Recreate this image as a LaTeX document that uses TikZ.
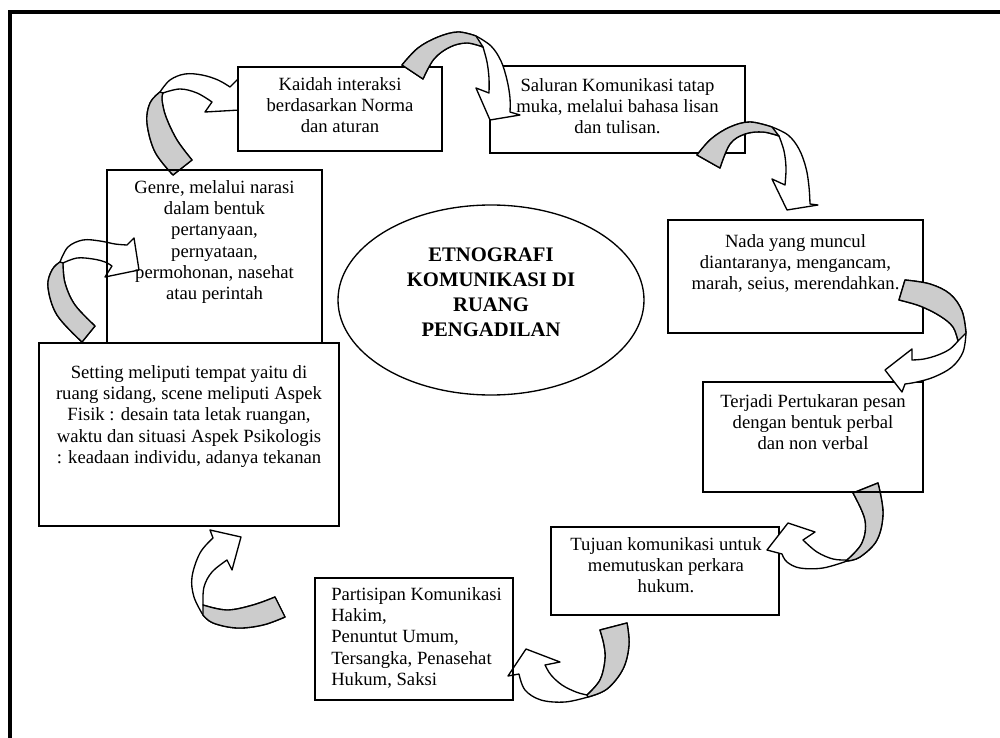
\documentclass[tikz,border=0pt]{standalone}
\usepackage{fontspec}
\setmainfont{Liberation Serif}
\usetikzlibrary{fit,shapes.geometric}

\tikzset{
  box/.style={draw, line width=1pt, inner sep=0pt, fill=white},
  openbox/.style={draw, line width=1pt, inner sep=0pt},
  txt/.style={align=center, inner sep=0pt, font=\fontsize{14}{16}\selectfont},
  ribbon/.style={draw, line width=1pt, line join=round},
  hubtext/.style={align=center, inner sep=0pt, font=\bfseries\fontsize{15.5}{18.75}\selectfont},
}

% Folded block arrow: #1 back band outer edge, #2 front band outer edge,
% #3 outer barb, #4 tip, #5 inner barb, #6 front band inner edge, #7 back band inner edge
\newcommand{\curvedribbon}[7]{%
  \path[ribbon, fill=white]
    plot[smooth,tension=.6] coordinates {#1}
    -- plot[smooth,tension=.6] coordinates {#2}
    -- #3 -- #4 -- #5
    -- plot[smooth,tension=.6] coordinates {#6}
    -- plot[smooth,tension=.6] coordinates {#7} -- cycle;
  \path[ribbon, fill=black!20]
    plot[smooth,tension=.6] coordinates {#1}
    -- plot[smooth,tension=.6] coordinates {#7} -- cycle;
}

\begin{document}
\begin{tikzpicture}[x=0.75pt,y=-0.75pt]
\useasboundingbox (0,0) rectangle (1000,738);
\clip (0,0) rectangle (1000,738);

% page frame
\draw[line width=3pt] (1010,12) -- (10,12) -- (10,750);

% arrows lying under the boxes
% Genre -> Kaidah
\curvedribbon{(173,175) (155,152) (147,123) (150,103) (160,92)}
  {(160,92) (170,80) (185,74) (202,75) (218,80) (230,87)}
  {(238,79)}{(240,110)}{(205,112)}
  {(212,102) (197,93) (180,89) (163,93)}
  {(163,93) (162,100) (166,117) (177,140) (192,160)}
% Setting -> Genre
\curvedribbon{(82,342) (57,315) (48,287) (52,270) (60,262)}
  {(60,262) (68,247) (83,240) (100,241) (115,244) (127,245)}
  {(134,238)}{(139,270)}{(105,277)}
  {(112,266) (105,262) (93,259) (77,258) (63,263)}
  {(63,263) (65,283) (75,305) (95,326)}
% Tujuan -> Partisipan
\curvedribbon{(627,623) (629,645) (623,669) (607,689) (588,697)}
  {(588,697) (565,702) (541,700) (525,690) (519,674)}
  {(508,676)}{(526,649)}{(560,662)}
  {(545,665) (551,675) (562,685) (576,692) (587,695)}
  {(587,695) (600,680) (605,660) (604,645) (600,630)}

% boxes
\node[box, fit={(238,67) (442,151)}] (kaidah) {};
\node[box, fit={(490,66) (745,153)}] (saluran) {};
\node[openbox, fit={(107,170) (322,343)}] (genre) {};
\node[box, fit={(39,343) (339,526)}] (setting) {};
\node[box, fit={(668,220) (923,333)}] (nada) {};
\node[box, fit={(551,527) (779,615)}] (tujuan) {};
\node[openbox, fit={(315,578) (513,700)}] (partisipan) {};

% Terjadi -> Tujuan (its cut end sits under the Terjadi outline)
\curvedribbon{(878,483) (883,513) (877,540) (860,557) (847,561)}
  {(847,561) (823,568) (800,568) (787,562) (782,554)}
  {(767,550)}{(788,523)}{(815,532)}
  {(803,540) (817,552) (833,559) (847,560)}
  {(847,560) (862,543) (865,520) (853,493)}
\node[openbox, fit={(703,382) (923,492)}] (terjadi) {};

% centre
\node[draw, ellipse, line width=1pt, inner sep=0pt,
      minimum width=229.5pt, minimum height=142.5pt] (hub) at (491,300) {};
\node[hubtext] (hubText) at (491,292.5) {ETNOGRAFI\\KOMUNIKASI DI\\RUANG\\PENGADILAN};

% box texts
\node[txt, anchor=north] (kaidahText) at (340,77) {Kaidah interaksi\\berdasarkan Norma\\dan aturan};
\node[txt, anchor=north] (saluranText) at (617.5,78) {Saluran Komunikasi tatap\\muka, melalui bahasa lisan\\dan tulisan.};
\node[txt, anchor=north] (genreText) at (214.5,180) {Genre, melalui narasi\\dalam bentuk\\pertanyaan,\\pernyataan,\\permohonan, nasehat\\atau perintah};
\node[txt, anchor=north] (settingText) at (189,365) {Setting meliputi tempat yaitu di\\ruang sidang, scene meliputi Aspek\\Fisik : desain tata letak ruangan,\\waktu dan situasi Aspek Psikologis\\: keadaan individu, adanya tekanan};
\node[txt, anchor=north] (nadaText) at (795.5,234) {Nada yang muncul\\diantaranya, mengancam,\\marah, seius, merendahkan.};
\node[txt, anchor=north] (terjadiText) at (813,394) {Terjadi Pertukaran pesan\\dengan bentuk perbal\\dan non verbal};
\node[txt, anchor=north] (tujuanText) at (666,537) {Tujuan komunikasi untuk\\memutuskan perkara\\hukum.};
\node[txt, align=left, anchor=north west] (partisipanText) at (331,587) {Partisipan Komunikasi\\Hakim,\\Penuntut Umum,\\Tersangka, Penasehat\\Hukum, Saksi};

% arrows lying over the boxes
% Kaidah -> Saluran
\curvedribbon{(402,65) (418,48) (438,37) (458,32) (476,36)}
  {(476,36) (491,46) (501,61) (507,80) (510,98) (510,112)}
  {(520,115)}{(490,120)}{(476,88)}
  {(489,93) (489,78) (487,62) (483,47)}
  {(483,47) (467,43) (450,47) (434,59) (423,79)}
% Saluran -> Nada
\curvedribbon{(697,155) (711,139) (730,127) (750,122) (772,127)}
  {(772,127) (788,135) (799,149) (806,168) (809,187) (810,204)}
  {(818,205)}{(787,210)}{(772,179)}
  {(785,185) (786,168) (784,151) (779,136)}
  {(779,136) (763,132) (745,134) (730,144) (720,168)}
% Nada -> Terjadi
\curvedribbon{(905,280) (930,284) (950,294) (962,311) (966,333)}
  {(966,333) (963,352) (952,367) (934,377) (917,382) (905,384)}
  {(902,392)}{(885,370)}{(912,349)}
  {(912,360) (924,359) (938,355) (950,349) (958,341)}
  {(958,341) (953,327) (940,316) (920,306) (899,300)}
% Partisipan -> Setting
\curvedribbon{(285,617) (263,625) (237,628) (213,623) (203,615)}
  {(203,615) (194,597) (192,577) (200,553) (213,538)}
  {(210,530)}{(241,537)}{(232,570)}
  {(227,560) (212,572) (204,587) (203,605)}
  {(203,605) (227,610) (253,605) (275,597)}
\end{tikzpicture}
\end{document}
